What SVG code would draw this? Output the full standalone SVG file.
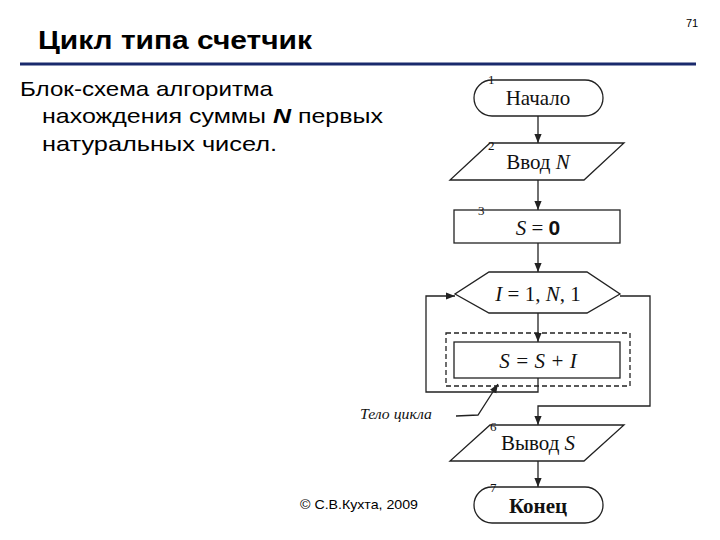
<svg xmlns="http://www.w3.org/2000/svg" width="720" height="540" viewBox="0 0 720 540">
<defs>
<marker id="ar" viewBox="0 0 10 10" refX="10" refY="5" markerWidth="7" markerHeight="7" orient="auto"><path d="M0,1 L10,5 L0,9 z" fill="#222"/></marker>
<style>
.s{fill:#fff;stroke:#222;stroke-width:1.3}
.l{fill:none;stroke:#222;stroke-width:1.3}
.t{font-family:"Liberation Serif",serif;font-size:21px;fill:#111;text-anchor:middle}
.n{font-family:"Liberation Serif",serif;font-size:13px;fill:#111}
.h{font-family:"Liberation Sans",sans-serif;font-size:21px;fill:#000}
</style>
</defs>
<rect width="720" height="540" fill="#fff"/>
<text x="38" y="49" font-family="Liberation Sans,sans-serif" font-weight="bold" font-size="26" fill="#000" textLength="274" lengthAdjust="spacingAndGlyphs">Цикл типа счетчик</text>
<text x="686" y="27" font-family="Liberation Sans,sans-serif" font-size="11" fill="#000">71</text>
<line x1="20" y1="64" x2="696" y2="64" stroke="#1a2a6c" stroke-width="3"/>
<text class="h" x="20" y="96" textLength="253" lengthAdjust="spacingAndGlyphs">Блок-схема алгоритма</text>
<text class="h" x="42" y="123" textLength="341" lengthAdjust="spacingAndGlyphs">нахождения суммы <tspan font-weight="bold" font-style="italic">N</tspan> первых</text>
<text class="h" x="42" y="151" textLength="235" lengthAdjust="spacingAndGlyphs">натуральных чисел.</text>
<text x="300" y="509" font-family="Liberation Sans,sans-serif" font-size="13" fill="#000" textLength="118" lengthAdjust="spacingAndGlyphs">© С.В.Кухта, 2009</text>
<g id="connectors">
<line class="l" x1="538" y1="116" x2="538" y2="143" marker-end="url(#ar)"/>
<line class="l" x1="538" y1="180" x2="538" y2="210" marker-end="url(#ar)"/>
<line class="l" x1="538" y1="243" x2="538" y2="272" marker-end="url(#ar)"/>
<line class="l" x1="538" y1="313" x2="538" y2="342" marker-end="url(#ar)"/>
<polyline class="l" points="538,378 538,392 426,392 426,296 455,296" marker-end="url(#ar)"/>
<polyline class="l" stroke-width="2" points="620,296 650,296 650,406 538,406 538,425" marker-end="url(#ar)"/>
<line class="l" x1="538" y1="461" x2="538" y2="487" marker-end="url(#ar)"/>
<polyline class="l" points="456,416 478,415 498,384" marker-end="url(#ar)"/>
</g>
<g id="n1"><rect class="s" x="474" y="80" width="129" height="36" rx="18"/><text class="t" x="538" y="105">Начало</text><text class="n" x="488" y="84">1</text></g>
<g id="n2"><polygon class="s" points="490,143 624,143 584,180 450,180"/><text class="t" x="538" y="169">Ввод <tspan font-style="italic">N</tspan></text><text class="n" x="488" y="150">2</text></g>
<g id="n3"><rect class="s" x="454" y="210" width="166" height="33"/><text class="t" x="538" y="235"><tspan font-style="italic">S</tspan> = <tspan font-family="Liberation Sans,sans-serif" font-weight="bold">0</tspan></text><text class="n" x="478" y="215">3</text></g>
<g id="n4"><polygon class="s" points="489,272 587,272 620,294 587,313 489,313 455,294"/><text class="t" x="538" y="301"><tspan font-style="italic">I</tspan> = 1, <tspan font-style="italic">N</tspan>, 1</text></g>
<g id="n5"><rect class="l" x="446" y="333" width="184" height="53" stroke-dasharray="5,3"/><rect class="s" x="454" y="342" width="166" height="36"/><text class="t" x="538" y="368" font-style="italic">S = S + I</text></g>
<text x="360" y="419" font-family="Liberation Serif,serif" font-style="italic" font-size="14" fill="#111" textLength="72" lengthAdjust="spacingAndGlyphs">Тело цикла</text>
<g id="n6"><polygon class="s" points="490,425 624,425 584,461 450,461"/><text class="t" x="538" y="450">Вывод <tspan font-style="italic">S</tspan></text><text class="n" x="490" y="431">6</text></g>
<g id="n7"><rect class="s" x="474" y="487" width="129" height="36" rx="18"/><text class="t" x="538" y="513" font-weight="bold">Конец</text><text class="n" x="490" y="492">7</text></g>
</svg>
